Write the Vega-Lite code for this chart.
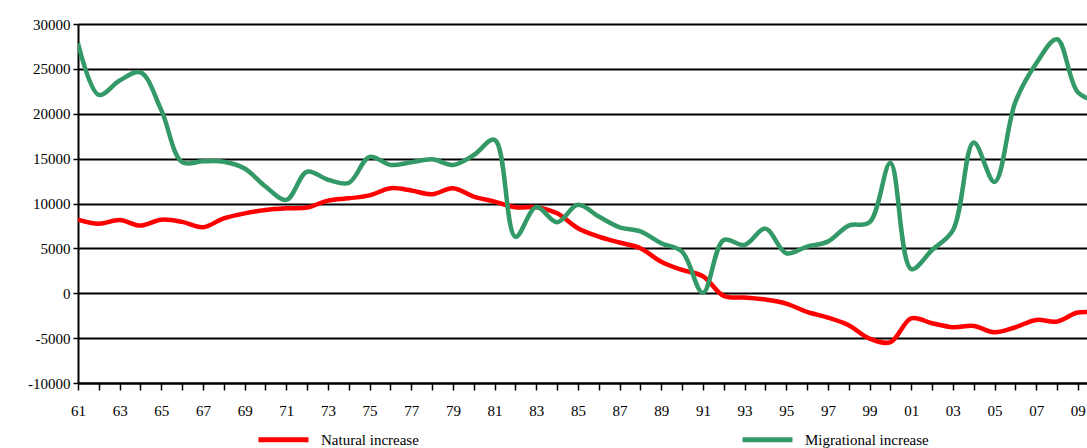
{
  "$schema": "https://vega.github.io/schema/vega-lite/v6.json",
  "width": 1009,
  "height": 359,
  "autosize": {"type": "none"},
  "padding": {"left": 78, "top": 24, "right": 0, "bottom": 65},
  "background": "white",
  "config": {"font": "Liberation Serif", "view": {"stroke": null}},
  "datasets": {
    "natural": [
      {"year": 1961, "value": 8200}, {"year": 1962, "value": 7750}, {"year": 1963, "value": 8150},
      {"year": 1964, "value": 7550}, {"year": 1965, "value": 8200}, {"year": 1966, "value": 7950},
      {"year": 1967, "value": 7350}, {"year": 1968, "value": 8350}, {"year": 1969, "value": 8900},
      {"year": 1970, "value": 9280}, {"year": 1971, "value": 9470}, {"year": 1972, "value": 9550},
      {"year": 1973, "value": 10320}, {"year": 1974, "value": 10580}, {"year": 1975, "value": 10900},
      {"year": 1976, "value": 11700}, {"year": 1977, "value": 11440}, {"year": 1978, "value": 11030},
      {"year": 1979, "value": 11700}, {"year": 1980, "value": 10770}, {"year": 1981, "value": 10210},
      {"year": 1982, "value": 9580}, {"year": 1983, "value": 9580}, {"year": 1984, "value": 8910},
      {"year": 1985, "value": 7240}, {"year": 1986, "value": 6310}, {"year": 1987, "value": 5650},
      {"year": 1988, "value": 5010}, {"year": 1989, "value": 3520}, {"year": 1990, "value": 2600},
      {"year": 1991, "value": 1900}, {"year": 1992, "value": -300}, {"year": 1993, "value": -480},
      {"year": 1994, "value": -700}, {"year": 1995, "value": -1150}, {"year": 1996, "value": -2080},
      {"year": 1997, "value": -2710}, {"year": 1998, "value": -3560}, {"year": 1999, "value": -5050},
      {"year": 2000, "value": -5450}, {"year": 2001, "value": -2800}, {"year": 2002, "value": -3340},
      {"year": 2003, "value": -3790}, {"year": 2004, "value": -3640}, {"year": 2005, "value": -4350},
      {"year": 2006, "value": -3790}, {"year": 2007, "value": -2970}, {"year": 2008, "value": -3160},
      {"year": 2009, "value": -2150}, {"year": 2010, "value": -2200}
    ],
    "migrational": [
      {"year": 1961, "value": 27850}, {"year": 1962, "value": 22100}, {"year": 1963, "value": 23700},
      {"year": 1964, "value": 24600}, {"year": 1965, "value": 20400}, {"year": 1966, "value": 14600},
      {"year": 1967, "value": 14700}, {"year": 1968, "value": 14650}, {"year": 1969, "value": 13900},
      {"year": 1970, "value": 11900}, {"year": 1971, "value": 10400}, {"year": 1972, "value": 13550},
      {"year": 1973, "value": 12650}, {"year": 1974, "value": 12300}, {"year": 1975, "value": 15200},
      {"year": 1976, "value": 14300}, {"year": 1977, "value": 14600}, {"year": 1978, "value": 14920},
      {"year": 1979, "value": 14300}, {"year": 1980, "value": 15400}, {"year": 1981, "value": 17100},
      {"year": 1982, "value": 6300}, {"year": 1983, "value": 9600}, {"year": 1984, "value": 7900},
      {"year": 1985, "value": 9850}, {"year": 1986, "value": 8540}, {"year": 1987, "value": 7350},
      {"year": 1988, "value": 6900}, {"year": 1989, "value": 5570}, {"year": 1990, "value": 4640},
      {"year": 1991, "value": 50}, {"year": 1992, "value": 5940}, {"year": 1993, "value": 5380},
      {"year": 1994, "value": 7200}, {"year": 1995, "value": 4460}, {"year": 1996, "value": 5200},
      {"year": 1997, "value": 5750}, {"year": 1998, "value": 7540}, {"year": 1999, "value": 7900},
      {"year": 2000, "value": 14500}, {"year": 2001, "value": 2700}, {"year": 2002, "value": 4820},
      {"year": 2003, "value": 7000}, {"year": 2004, "value": 16800}, {"year": 2005, "value": 12400},
      {"year": 2006, "value": 21300}, {"year": 2007, "value": 25600}, {"year": 2008, "value": 28300},
      {"year": 2009, "value": 22400}, {"year": 2010, "value": 21300}
    ]
  },
  "layer": [
    {
      "data": {"name": "natural"},
      "transform": [{"calculate": "'Natural increase'", "as": "series"}],
      "mark": {"type": "line", "interpolate": "catmull-rom", "strokeWidth": 4.5, "clip": true},
      "encoding": {
        "x": {"field": "year", "type": "quantitative"},
        "y": {"field": "value", "type": "quantitative"},
        "color": {"field": "series", "type": "nominal"}
      }
    },
    {
      "data": {"name": "migrational"},
      "transform": [{"calculate": "'Migrational increase'", "as": "series"}],
      "mark": {"type": "line", "interpolate": "catmull-rom", "strokeWidth": 4.5, "clip": true},
      "encoding": {
        "x": {"field": "year", "type": "quantitative"},
        "y": {"field": "value", "type": "quantitative"},
        "color": {"field": "series", "type": "nominal"}
      }
    }
  ],
  "resolve": {"scale": {"color": "shared"}},
  "encoding": {
    "x": {
      "field": "year", "type": "quantitative",
      "scale": {"domain": [1961, 2009.44], "nice": false, "zero": false},
      "axis": {
        "title": null,
        "values": [1961,1962,1963,1964,1965,1966,1967,1968,1969,1970,1971,1972,1973,1974,1975,1976,1977,1978,1979,1980,1981,1982,1983,1984,1985,1986,1987,1988,1989,1990,1991,1992,1993,1994,1995,1996,1997,1998,1999,2000,2001,2002,2003,2004,2005,2006,2007,2008,2009],
        "labelExpr": "(datum.value - 1961) % 2 == 0 ? slice(toString(datum.value), 2) : ''",
        "grid": false,
        "tickSize": 7, "tickColor": "black", "tickWidth": 1.5,
        "domainColor": "black", "domainWidth": 2,
        "labelFont": "Liberation Serif", "labelFontSize": 15, "labelColor": "black",
        "labelPadding": 13, "labelOverlap": false, "labelFlush": false
      }
    },
    "y": {
      "field": "value", "type": "quantitative",
      "scale": {"domain": [-10000, 30000], "nice": false},
      "axis": {
        "title": null,
        "values": [-10000, -5000, 0, 5000, 10000, 15000, 20000, 25000, 30000],
        "labelExpr": "toString(datum.value)",
        "grid": true, "gridColor": "black", "gridWidth": 2, "gridOpacity": 1,
        "domainColor": "black", "domainWidth": 2,
        "tickColor": "black", "tickSize": 5, "tickWidth": 1.5,
        "labelFont": "Liberation Serif", "labelFontSize": 15, "labelColor": "black",
        "labelPadding": 3
      }
    },
    "color": {
      "field": "series", "type": "nominal",
      "scale": {"domain": ["Natural increase", "Migrational increase"], "range": ["#ff0000", "#339966"]},
      "legend": {
        "title": null, "orient": "none", "legendX": 178, "legendY": 388,
        "direction": "horizontal", "columns": 2, "columnPadding": 313,
        "padding": 0, "offset": 0,
        "symbolType": "stroke", "symbolSize": 2500, "symbolStrokeWidth": 5,
        "labelFont": "Liberation Serif", "labelFontSize": 15, "labelColor": "black",
        "labelOffset": 10, "labelLimit": 300
      }
    }
  }
}
